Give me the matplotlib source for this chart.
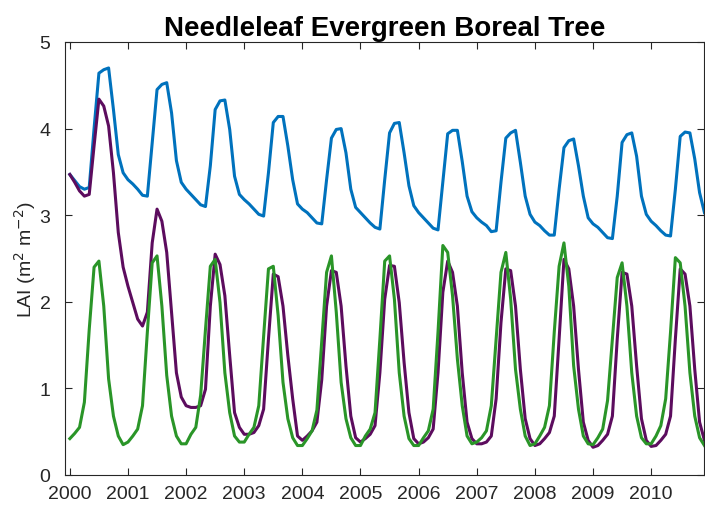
import numpy as np
import matplotlib
matplotlib.use("Agg")
import matplotlib.pyplot as plt

plt.rcParams['font.family'] = ['Liberation Sans', 'DejaVu Sans']

# monthly LAI, Jan 2000 - Dec 2010 (one row per year)
lai_blue = [
    3.47, 3.40, 3.33, 3.30, 3.32, 4.00, 4.64, 4.68, 4.70, 4.22, 3.70, 3.49,
    3.41, 3.36, 3.30, 3.23, 3.22, 3.84, 4.45, 4.51, 4.53, 4.18, 3.63, 3.38,
    3.30, 3.24, 3.18, 3.12, 3.10, 3.57, 4.22, 4.32, 4.33, 3.99, 3.45, 3.24,
    3.18, 3.13, 3.07, 3.01, 2.99, 3.49, 4.07, 4.14, 4.14, 3.80, 3.41, 3.13,
    3.07, 3.03, 2.97, 2.91, 2.90, 3.41, 3.89, 3.99, 4.00, 3.72, 3.30, 3.09,
    3.03, 2.97, 2.91, 2.86, 2.84, 3.41, 3.95, 4.06, 4.07, 3.72, 3.34, 3.11,
    3.03, 2.97, 2.91, 2.85, 2.83, 3.38, 3.94, 3.98, 3.98, 3.62, 3.22, 3.04,
    2.97, 2.92, 2.88, 2.81, 2.82, 3.38, 3.89, 3.95, 3.98, 3.61, 3.22, 3.01,
    2.92, 2.88, 2.82, 2.77, 2.77, 3.30, 3.78, 3.86, 3.88, 3.57, 3.22, 2.97,
    2.90, 2.86, 2.80, 2.74, 2.73, 3.22, 3.84, 3.93, 3.95, 3.68, 3.22, 3.01,
    2.93, 2.88, 2.82, 2.77, 2.76, 3.30, 3.91, 3.96, 3.95, 3.65, 3.26, 3.03,
]
lai_purple = [
    3.47, 3.38, 3.28, 3.22, 3.24, 3.80, 4.34, 4.26, 4.03, 3.49, 2.80, 2.40,
    2.18, 1.99, 1.80, 1.72, 1.88, 2.68, 3.07, 2.93, 2.57, 1.88, 1.18, 0.90,
    0.80, 0.78, 0.78, 0.80, 0.99, 1.95, 2.55, 2.43, 2.07, 1.38, 0.72, 0.55,
    0.47, 0.47, 0.49, 0.57, 0.76, 1.57, 2.32, 2.29, 1.95, 1.38, 0.88, 0.45,
    0.40, 0.45, 0.51, 0.61, 1.10, 1.95, 2.36, 2.34, 1.95, 1.26, 0.68, 0.43,
    0.38, 0.42, 0.47, 0.57, 1.18, 2.03, 2.42, 2.41, 1.99, 1.30, 0.72, 0.42,
    0.36, 0.38, 0.43, 0.53, 1.18, 2.11, 2.47, 2.34, 1.95, 1.18, 0.61, 0.42,
    0.36, 0.36, 0.38, 0.45, 0.88, 1.76, 2.38, 2.36, 1.95, 1.22, 0.65, 0.42,
    0.34, 0.36, 0.42, 0.49, 0.68, 1.57, 2.49, 2.38, 1.95, 1.22, 0.61, 0.40,
    0.32, 0.34, 0.40, 0.47, 0.68, 1.57, 2.34, 2.32, 1.95, 1.26, 0.65, 0.40,
    0.33, 0.34, 0.40, 0.47, 0.68, 1.57, 2.38, 2.32, 1.95, 1.22, 0.61, 0.40,
]
lai_green = [
    0.42, 0.48, 0.55, 0.84, 1.68, 2.40, 2.47, 1.95, 1.11, 0.68, 0.45, 0.35,
    0.38, 0.45, 0.53, 0.80, 1.65, 2.45, 2.53, 1.95, 1.15, 0.68, 0.45, 0.36,
    0.36, 0.47, 0.55, 0.92, 1.68, 2.41, 2.49, 1.99, 1.18, 0.72, 0.45, 0.38,
    0.38, 0.47, 0.55, 0.80, 1.60, 2.38, 2.41, 1.84, 1.07, 0.65, 0.43, 0.34,
    0.34, 0.42, 0.51, 0.75, 1.55, 2.34, 2.53, 1.88, 1.07, 0.65, 0.43, 0.34,
    0.34, 0.45, 0.53, 0.72, 1.57, 2.47, 2.53, 2.03, 1.18, 0.68, 0.42, 0.34,
    0.34, 0.43, 0.51, 0.76, 1.65, 2.65, 2.57, 2.07, 1.34, 0.80, 0.45, 0.36,
    0.38, 0.43, 0.51, 0.80, 1.57, 2.34, 2.57, 2.03, 1.22, 0.76, 0.45, 0.34,
    0.36, 0.45, 0.55, 0.80, 1.65, 2.41, 2.68, 2.18, 1.26, 0.76, 0.45, 0.36,
    0.35, 0.43, 0.53, 0.86, 1.57, 2.28, 2.45, 1.95, 1.18, 0.68, 0.43, 0.36,
    0.36, 0.45, 0.57, 0.88, 1.65, 2.51, 2.45, 1.95, 1.18, 0.68, 0.43, 0.34,
]
years = list(range(2000, 2011))

t = years[0] + np.arange(len(lai_blue)) / 12.0

fig = plt.figure(figsize=(7.05, 5.10), dpi=100)
ax = fig.add_axes([0.0922, 0.0667, 0.907, 0.849])

ax.plot(t, lai_blue, color='#0072BD', lw=2.2)
ax.plot(t, lai_purple, color='#5C0C5E', lw=2.2)
ax.plot(t, lai_green, color='#2A9528', lw=2.2)

ax.set_xlim(years[0] - 1 / 12, years[-1] + 11 / 12)
ax.set_ylim(0, 5)
ax.set_xticks(years)
ax.set_yticks(range(0, 6))

ax.tick_params(direction='in', length=5, width=0.8, top=True, right=True,
               labelsize=14, colors='#262626')
ax.tick_params(axis='y', pad=10.5)
ax.tick_params(axis='x', pad=7.5)
for s in ax.spines.values():
    s.set_color('#262626')
    s.set_linewidth(0.8)

ax.set_ylabel('LAI (m$^2$ m$^{-2}$)', fontsize=14, color='#262626', labelpad=1)
ax.set_title('Needleleaf Evergreen Boreal Tree', fontsize=20, fontweight='bold', pad=5)

fig.savefig('out.png', dpi=100)
